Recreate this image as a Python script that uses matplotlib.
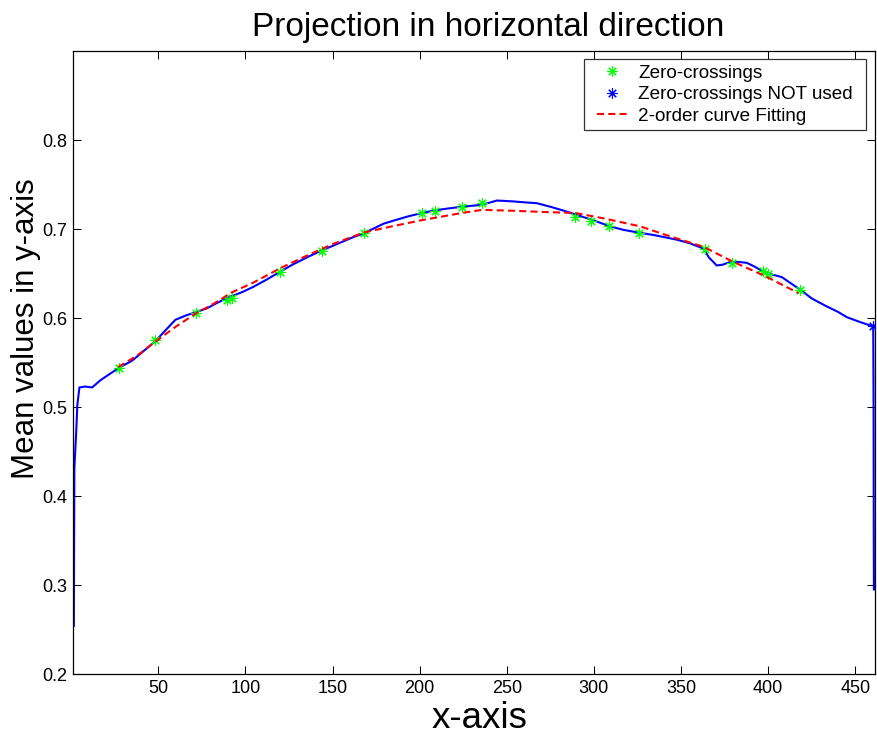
import numpy as np
import matplotlib
matplotlib.use("Agg")
import matplotlib.pyplot as plt
from matplotlib.path import Path

plt.rcParams['font.family'] = ['Liberation Sans', 'DejaVu Sans']

# Mean projection profile
proj_x = [1.5, 1.8, 2.9, 3.5, 4.7, 8, 12, 16.7, 22, 27.4, 34.9, 41, 48.3, 54, 59.8,
          66, 72.2, 78, 83.7, 91.3, 98, 104.5, 112, 119, 127, 136.2, 143.9, 150,
          156, 162, 167.8, 174, 179.3, 186, 193, 201.3, 208.9, 216, 224.2, 234.7,
          239, 244.3, 253.8, 260, 267.3, 275, 282, 288.3, 297.8, 303.6, 309.3, 317,
          325.6, 335, 347.6, 355, 362.9, 366, 370.5, 374, 378.2, 383, 387.7, 392,
          397.3, 402, 407.8, 413, 418.3, 425, 433.6, 440, 445.1, 452, 459.5, 460.3,
          460.5, 460.6, 460.7]
proj_y = [0.254, 0.431, 0.474, 0.502, 0.522, 0.523, 0.522, 0.530, 0.537, 0.544,
          0.552, 0.562, 0.574, 0.586, 0.598, 0.603, 0.607, 0.611, 0.617, 0.624,
          0.629, 0.635, 0.643, 0.651, 0.660, 0.669, 0.676, 0.681, 0.686, 0.691,
          0.695, 0.701, 0.706, 0.710, 0.714, 0.718, 0.721, 0.723, 0.725, 0.727,
          0.729, 0.732, 0.731, 0.730, 0.729, 0.725, 0.721, 0.717, 0.711, 0.707,
          0.703, 0.699, 0.696, 0.693, 0.688, 0.684, 0.678, 0.668, 0.659, 0.660,
          0.663, 0.663, 0.662, 0.658, 0.652, 0.649, 0.646, 0.639, 0.632, 0.622,
          0.613, 0.607, 0.601, 0.596, 0.591, 0.590, 0.50, 0.36, 0.295]

# Zero-crossings used for the fit
zc_x = [27.2, 48.3, 71.8, 89.4, 92.3, 120, 143.9, 167.8, 201.3, 208.9, 224.2,
        235.7, 289.2, 298.2, 308.4, 325.6, 363.8, 379.1, 396.9, 400.1, 418.3]
zc_y = [0.544, 0.575, 0.606, 0.620, 0.622, 0.652, 0.675, 0.695, 0.718, 0.720,
        0.725, 0.729, 0.714, 0.709, 0.703, 0.696, 0.677, 0.662, 0.653, 0.650,
        0.631]

# Zero-crossings not used
nu_x = [460.3]
nu_y = [0.591]

# 2-order curve fit
fit_x = [27, 38, 47.3, 59.8, 72.2, 80, 87.5, 91.3, 104.7, 120, 136.2, 150, 167.8,
         179.3, 201.3, 224.2, 235.7, 253.8, 273, 289.2, 305.5, 326.5, 341.8,
         362.9, 380, 397.3, 417.4]
fit_y = [0.545, 0.558, 0.572, 0.590, 0.606, 0.614, 0.623, 0.628, 0.640, 0.656,
         0.671, 0.683, 0.696, 0.701, 0.710, 0.718, 0.7215, 0.7205, 0.719, 0.718,
         0.712, 0.703, 0.693, 0.680, 0.663, 0.648, 0.628]

xticks = [50, 100, 150, 200, 250, 300, 350, 400, 450]
yticks = [0.2, 0.3, 0.4, 0.5, 0.6, 0.7, 0.8]

fig = plt.figure(figsize=(8.77, 7.36), dpi=100)
ax = fig.add_axes([0.0832, 0.0842, 0.9145, 0.8465])

star = (8, 2, 0)  # matlab-like '*' (plus + cross)
ax.plot(proj_x, proj_y, color=(0, 0, 1), lw=1.5, zorder=2)
ax.plot(zc_x, zc_y, ls='none', marker=star, ms=7.5, mew=0.8,
        color=(0, 1, 0), label='Zero-crossings', zorder=3)
ax.plot(nu_x, nu_y, ls='none', marker=star, ms=7.5, mew=0.8,
        color=(0, 0, 1), label='Zero-crossings NOT used', zorder=3)
ax.plot(fit_x, fit_y, color=(1, 0, 0), lw=1.5, ls=(0, (3.4, 2)),
        label='2-order curve Fitting', zorder=4)

ax.set_xlim(1, 461.3)
ax.set_ylim(0.2, 0.9)
ax.set_xticks(xticks)
ax.set_yticks(yticks)
ax.set_yticklabels([f"{v:.1f}" for v in yticks])
ax.tick_params(direction='in', length=6, width=0.75, top=True, right=True,
               labelsize=13, pad=4)
for s in ax.spines.values():
    s.set_linewidth(0.9)

ax.set_title('Projection in horizontal direction', fontsize=24, pad=11, x=0.5175)
ax.set_xlabel('x-axis', fontsize=26.5, labelpad=3, x=0.507)
ax.set_ylabel('Mean values in y-axis', fontsize=22.5, labelpad=1, y=0.554)

leg = ax.legend(loc='upper right', bbox_to_anchor=(0.9796, 0.9872),
                fontsize=13.6, fancybox=False, framealpha=1,
                edgecolor='#333333', borderaxespad=0, labelspacing=0.22,
                handlelength=1.6, handletextpad=0.6, borderpad=0.3)
leg.get_frame().set_linewidth(0.9)


# frame a bit wider than the content on the left/right, like the matlab box
def wide_box(x0, y0, width, height, mutation_size):
    px = 0.4 * mutation_size
    verts = [(x0 - px, y0), (x0 + width + px, y0), (x0 + width + px, y0 + height),
             (x0 - px, y0 + height), (x0 - px, y0)]
    return Path(verts, closed=True)


leg.get_frame().set_boxstyle(wide_box)

fig.savefig('out.png', dpi=100, facecolor='white')
